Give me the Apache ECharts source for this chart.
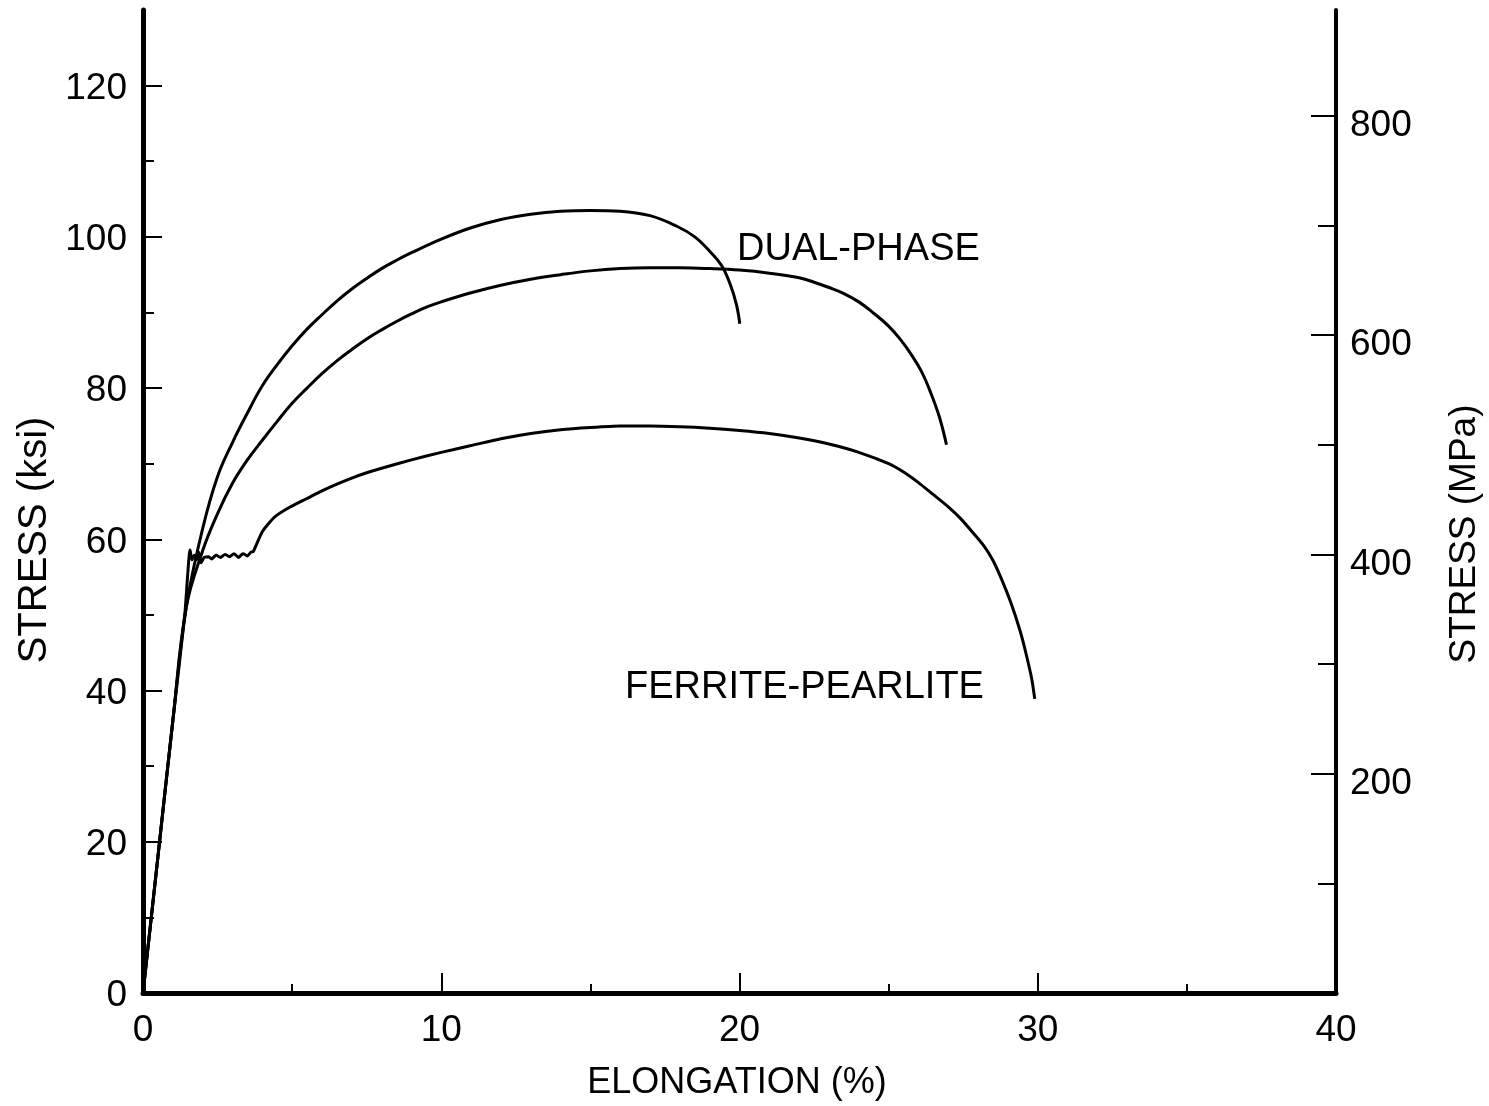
<!DOCTYPE html>
<html>
<head>
<meta charset="utf-8">
<script src="https://cdn.jsdelivr.net/npm/echarts@6/dist/echarts.min.js"></script>
<style>
html,body{margin:0;padding:0;background:#fff;}
#chart{width:1489px;height:1106px;}
</style>
</head>
<body>
<div id="chart"></div>
<script>
// ---- data (elongation %, stress ksi) ----
const dualPhaseHigh = [
  [0,0],[0.5,18],[1.0,36],[1.45,51],[2.0,61.4],[2.5,68.3],[3.0,72.8],[3.5,76.7],[4.0,80.3],
  [4.5,83.1],[5.0,85.6],[5.5,87.8],[6.0,89.7],[6.5,91.5],[7.0,93.1],[7.5,94.5],[8.0,95.8],
  [8.5,96.9],[9.0,97.9],[10,99.7],[11,101.2],[12,102.3],[13,103.0],[14,103.4],[15,103.5],
  [16,103.4],[17,102.8],[17.9,101.4],[18.5,100.0],[19.0,98.1],[19.4,96.2],[19.7,93.6],
  [19.9,91.0],[20.01,88.5]
];
const dualPhaseLow = [
  [0,0],[0.5,18],[1.0,36],[1.45,51],[2.0,58.5],[2.5,63.4],[3.0,67.4],[3.5,70.5],[4.0,73.1],
  [4.5,75.6],[5.0,78.0],[5.5,80.0],[6.0,81.9],[6.5,83.6],[7.0,85.1],[7.5,86.5],[8.0,87.7],
  [8.5,88.8],[9.0,89.8],[9.5,90.7],[10,91.4],[11,92.6],[12,93.6],[13,94.4],[14,95.0],
  [15,95.5],[16,95.8],[17,95.9],[18,95.9],[19,95.8],[20,95.6],[21,95.2],[22,94.6],
  [22.5,94.0],[23,93.3],[23.5,92.5],[24,91.4],[24.5,89.9],[25,88.2],[25.4,86.4],
  [25.8,84.2],[26.1,82.2],[26.4,79.5],[26.7,76.2],[26.94,72.5]
];
const ferritePearlite = [
  [0,0],[0.5,18],[1.0,36],[1.4,50],[1.58,58.6],[1.64,57.3],[1.72,57.9],[1.8,57.3],
  [1.87,58.3],[1.95,56.9],[2.05,57.6],[2.2,57.7],[2.3,57.4],[2.45,57.9],[2.6,57.6],
  [2.75,58.0],[2.9,57.7],[3.05,58.1],[3.2,57.6],[3.35,58.1],[3.5,57.8],[3.62,58.3],
  [3.7,58.4],[4.0,61.0],[4.4,62.9],[4.9,64.2],[5.5,65.4],[6.0,66.4],[6.5,67.3],[7.0,68.1],
  [7.5,68.8],[8.0,69.4],[9.0,70.5],[10,71.5],[11,72.4],[12,73.3],[13,74.0],[14,74.5],
  [15,74.8],[16,75.0],[17,75.0],[18,74.9],[19,74.7],[20,74.4],[21,74.0],[22,73.4],
  [23,72.6],[24,71.5],[25,70.0],[25.5,68.9],[26.0,67.5],[26.5,65.9],[27.0,64.3],
  [27.4,62.8],[27.8,61.0],[28.2,59.1],[28.5,57.2],[28.8,54.6],[29.1,51.6],[29.4,48.0],
  [29.6,45.0],[29.8,41.5],[29.9,38.9]
];
// ---- ticks ----
const ksiMajor = [0,20,40,60,80,100,120];
const ksiMinor = [10,30,50,70,90,110];
const mpaMajor = [200,400,600,800];
const mpaMinor = [100,300,500,700];
const ksiMax = 130;
const ksiToMpa = 6.895;

const FONT = 'Liberation Sans';
const chart = echarts.init(document.getElementById('chart'));

function yAx(pos, max, major, showLine, lineW, tickLen, labels, margin, padTop) {
  return {
    type: 'value', position: pos, min: 0, max: max, offset: 0,
    axisLine: {show: showLine, lineStyle: {color: '#000', width: lineW}},
    axisTick: {show: true, inside: true, length: tickLen, customValues: major,
      lineStyle: {color: '#000', width: 2}},
    axisLabel: labels ? {show: true, customValues: major, margin: margin,
      formatter: '{t|{value}}',
      rich: {t: {color: '#000', fontFamily: FONT, fontSize: 37, padding: [padTop, 0, 0, 0]}}
    } : {show: false},
    splitLine: {show: false}, minorTick: {show: false}
  };
}

const option = {
  backgroundColor: '#fff',
  animation: false,
  grid: {left: 143, right: 153, top: 10, bottom: 113},
  xAxis: {
    type: 'value', min: 0, max: 40, interval: 10,
    axisLine: {lineStyle: {color: '#000', width: 5}},
    axisTick: {inside: true, length: 20, lineStyle: {color: '#000', width: 2}},
    minorTick: {show: true, splitNumber: 2, length: 9, lineStyle: {color: '#000', width: 2}},
    axisLabel: {color: '#000', fontFamily: FONT, fontSize: 37, margin: 19},
    splitLine: {show: false}
  },
  yAxis: [
    yAx('left', ksiMax, ksiMajor, true, 5, 19, true, 16, 6),
    yAx('left', ksiMax, ksiMinor, false, 5, 11, false, 0, 0),
    yAx('right', ksiMax * ksiToMpa, mpaMajor, true, 4, 25, true, 14, 20),
    yAx('right', ksiMax * ksiToMpa, mpaMinor, false, 4, 18, false, 0, 0)
  ],
  series: [
    {type: 'line', data: dualPhaseHigh, yAxisIndex: 0, showSymbol: false, smooth: 0.4,
      lineStyle: {color: '#000', width: 3}},
    {type: 'line', data: dualPhaseLow, yAxisIndex: 0, showSymbol: false, smooth: 0.4,
      lineStyle: {color: '#000', width: 3}},
    {type: 'line', data: ferritePearlite, yAxisIndex: 0, showSymbol: false, smooth: 0.2,
      lineStyle: {color: '#000', width: 3}}
  ],
  graphic: [
    {type: 'text', x: 737, y: 250, style: {text: 'DUAL-PHASE', fill: '#000',
      font: '38px "Liberation Sans"', textAlign: 'left', textVerticalAlign: 'middle'}},
    {type: 'text', x: 625, y: 688, style: {text: 'FERRITE-PEARLITE', fill: '#000',
      font: '38px "Liberation Sans"', textAlign: 'left', textVerticalAlign: 'middle'}},
    {type: 'text', x: 737, y: 1083, style: {text: 'ELONGATION (%)', fill: '#000',
      font: '36px "Liberation Sans"', textAlign: 'center', textVerticalAlign: 'middle'}},
    {type: 'text', x: 35, y: 540, rotation: Math.PI / 2, style: {text: 'STRESS (ksi)', fill: '#000',
      font: '40px "Liberation Sans"', textAlign: 'center', textVerticalAlign: 'middle'}},
    {type: 'text', x: 1465, y: 534, rotation: Math.PI / 2, style: {text: 'STRESS (MPa)', fill: '#000',
      font: '37px "Liberation Sans"', textAlign: 'center', textVerticalAlign: 'middle'}}
  ]
};
chart.setOption(option);
</script>
</body>
</html>
